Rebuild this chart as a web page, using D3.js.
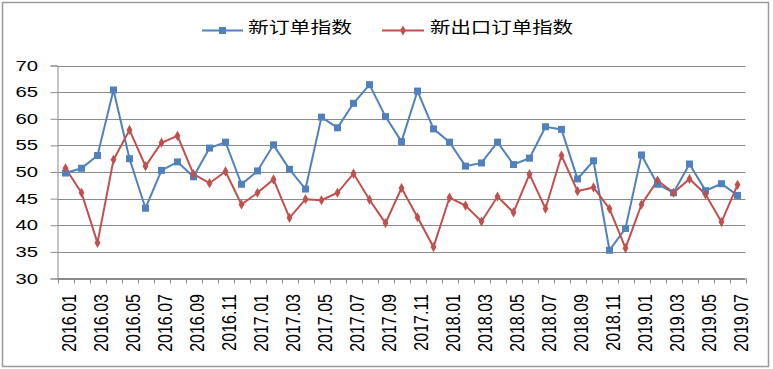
<!DOCTYPE html>
<html><head><meta charset="utf-8">
<script src="https://cdn.jsdelivr.net/npm/d3@7"></script>
<style>body{margin:0;background:#fff}svg{display:block}</style>
</head><body><svg id="c" width="773" height="369"></svg>
<script>
const categories = [];
for (let y = 2016; y <= 2019; y++) for (let m = 1; m <= 12; m++) { if (y === 2019 && m > 7) break; categories.push(y + "." + String(m).padStart(2, "0")); }
const seriesNames = ["新订单指数", "新出口订单指数"];
const newOrders = [49.8,50.7,53.1,65.4,52.5,43.2,50.3,51.9,49.1,54.5,55.6,47.7,50.2,55.1,50.5,46.8,60.3,58.3,62.9,66.4,60.4,55.7,65.2,58.1,55.6,51.1,51.7,55.6,51.4,52.6,58.5,58.0,48.7,52.1,35.3,39.4,53.2,47.7,46.1,51.5,46.5,47.8,45.6];
const newExportOrders = [50.7,46.1,36.7,52.3,57.9,51.1,55.5,56.8,49.6,47.9,50.1,43.9,46.1,48.6,41.4,44.9,44.7,46.1,49.7,44.8,40.4,47.0,41.5,35.9,45.2,43.7,40.7,45.4,42.4,49.6,43.1,53.1,46.4,47.1,43.1,35.7,43.9,48.4,46.1,48.7,45.8,40.6,47.6];
const yTicks = [30,35,40,45,50,55,60,65,70];
const colors = ["#4F81BD", "#C0504D"];

const svg = d3.select("#c");
svg.append("rect").attr("x",2.5).attr("y",2.5).attr("width",766).attr("height",364).attr("fill","#fff").attr("stroke","#9a9a9a").attr("stroke-width",1.5);

const L = 57.5, R = 745.5, T = 65.5, B = 278.5;
const x = d3.scaleBand().domain(categories).range([L, R]);
const y = d3.scaleLinear().domain([30, 70]).range([B, T]);
const font = "Liberation Sans, Arial, sans-serif";

// gridlines
svg.append("g").selectAll("line").data(yTicks).join("line")
  .attr("x1", L).attr("x2", R).attr("y1", d => Math.round(y(d)) + 0.5).attr("y2", d => Math.round(y(d)) + 0.5)
  .attr("stroke", "#8a8a8a").attr("stroke-width", 1);

// y axis
const yAxis = d3.axisLeft(y).tickValues(yTicks).tickSize(7).tickFormat(() => "");
const gy = svg.append("g").attr("transform", `translate(${L},0)`).call(yAxis);
gy.select(".domain").attr("stroke", "#8a8a8a");
gy.selectAll(".tick line").attr("stroke", "#8a8a8a");
svg.append("g").selectAll("text").data(yTicks).join("text")
  .attr("transform", d => `translate(38,${y(d)}) scale(1.45,1)`)
  .attr("text-anchor", "end").attr("dy", "0.36em")
  .attr("font-family", font).attr("font-size", 14).attr("fill", "#000")
  .text(d => d);

// x axis: ticks at band boundaries
const xAxisG = svg.append("g");
xAxisG.append("line").attr("x1", L).attr("x2", R).attr("y1", B).attr("y2", B).attr("stroke", "#8a8a8a");
const bounds = categories.map(c => x(c)).concat([R]);
xAxisG.selectAll("line.t").data(bounds).join("line").attr("class","t")
  .attr("x1", d => Math.round(d) + 0.5).attr("x2", d => Math.round(d) + 0.5).attr("y1", B).attr("y2", B + 5).attr("stroke", "#8a8a8a");
xAxisG.selectAll("text").data(categories.filter((c, i) => i % 2 === 0)).join("text")
  .attr("transform", d => `translate(${x(d) + x.bandwidth()/2 + 10},294) scale(1.25,1) rotate(-90)`)
  .attr("text-anchor", "end")
  .attr("font-family", font).attr("font-size", 16).attr("fill", "#000")
  .text(d => d);

const cx = d => x(d) + x.bandwidth()/2;
const line = d3.line().x((d, i) => cx(categories[i])).y(d => y(d));

// series
[newOrders, newExportOrders].forEach((vals, s) => {
  svg.append("path").datum(vals).attr("d", line).attr("fill", "none").attr("stroke", colors[s]).attr("stroke-width", 2);
});
svg.append("g").selectAll("rect").data(newOrders).join("rect")
  .attr("x", (d, i) => cx(categories[i]) - 3.5).attr("y", d => y(d) - 3.5).attr("width", 7).attr("height", 7).attr("fill", colors[0]);
const diamond = d3.symbol().type(d3.symbolDiamond).size(30);
svg.append("g").selectAll("path").data(newExportOrders).join("path")
  .attr("transform", (d, i) => `translate(${cx(categories[i])},${y(d)})`).attr("d", diamond).attr("fill", colors[1]);

// legend
const lg = svg.append("g").attr("font-family", "Noto Sans CJK SC, sans-serif").attr("font-size", 16).attr("fill", "#000");
const legendItems = [{x0: 202, x1: 243, tx: 248, tw: 104}, {x0: 382, x1: 424, tx: 430, tw: 143}];
legendItems.forEach((p, s) => {
  lg.append("line").attr("x1", p.x0).attr("x2", p.x1).attr("y1", 30.5).attr("y2", 30.5).attr("stroke", colors[s]).attr("stroke-width", 2);
  const mx = (p.x0 + p.x1) / 2;
  if (s === 0) lg.append("rect").attr("x", mx - 3.5).attr("y", 27).attr("width", 7).attr("height", 7).attr("fill", colors[0]);
  else lg.append("path").attr("transform", `translate(${mx},30.5)`).attr("d", diamond).attr("fill", colors[1]);
  lg.append("text").attr("x", p.tx).attr("y", 26).attr("dominant-baseline", "central")
    .attr("textLength", p.tw).attr("lengthAdjust", "spacingAndGlyphs").text(seriesNames[s]);
});
</script></body></html>
